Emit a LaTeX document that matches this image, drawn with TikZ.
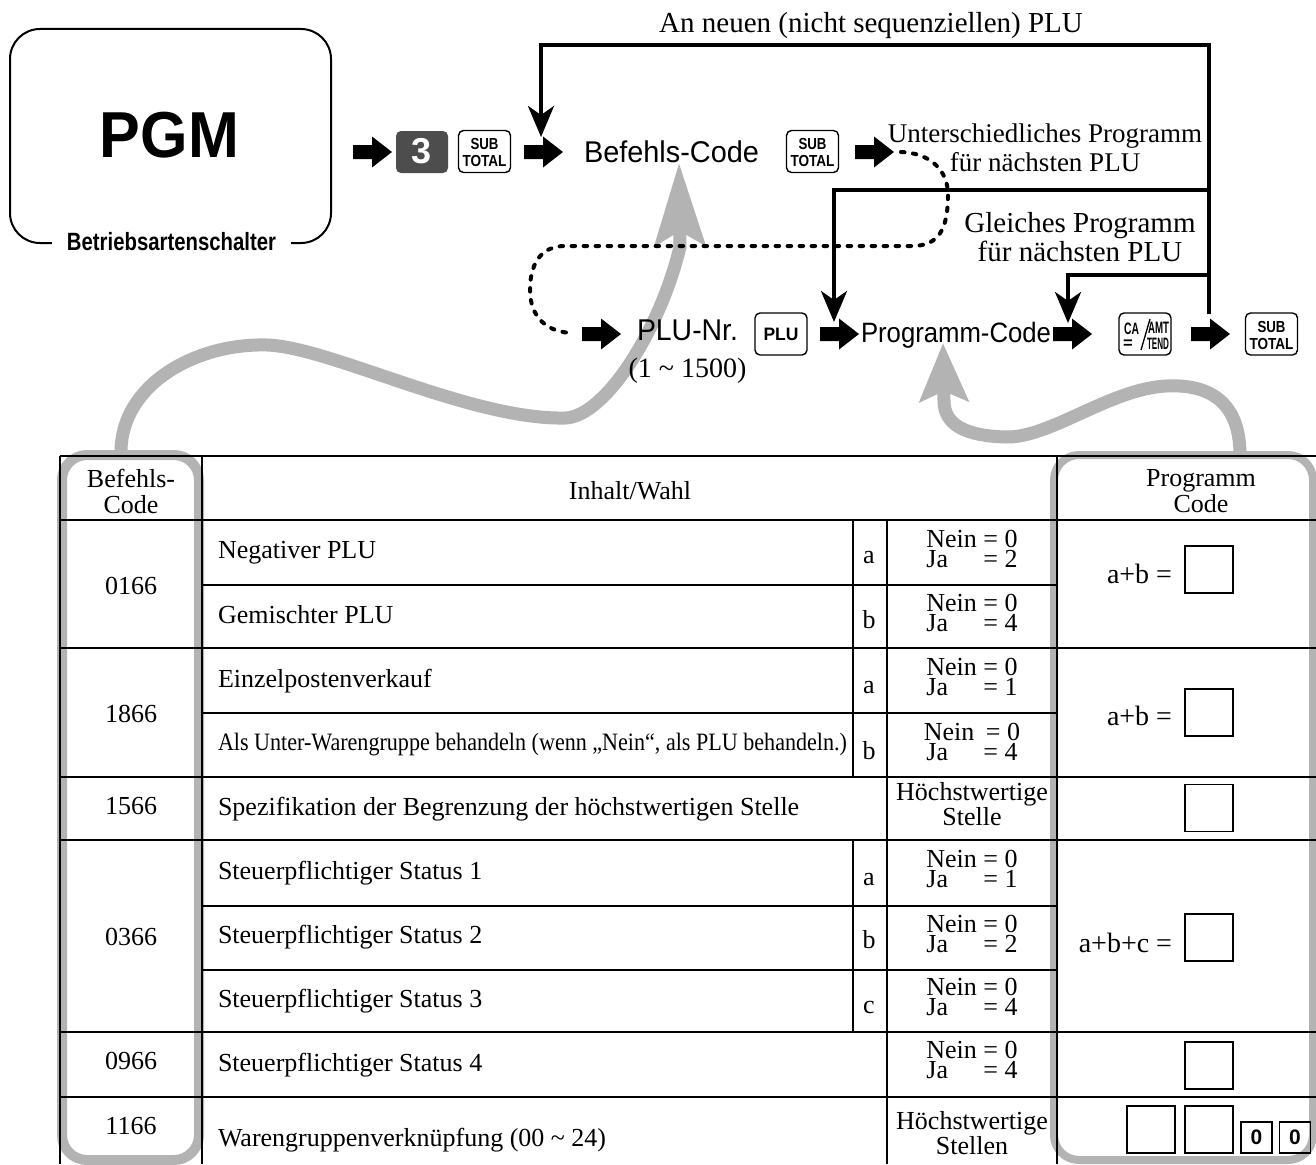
\documentclass[tikz,border=0pt]{standalone}
\usepackage{fontspec}
\usepackage{graphicx}
\usepackage{calc}
\setmainfont{Liberation Serif}
\setsansfont{Liberation Sans}
\usetikzlibrary{arrows.meta}
\definecolor{greyc}{HTML}{B3B3B3}
\definecolor{keydark}{HTML}{4D4D4D}
\newcommand\sqz[2]{\resizebox{#1}{\height}{#2}}
\newcommand\nj[2][]{Nein#1 = 0\\\makebox[\widthof{Nein}][l]{Ja} = #2}
\newcommand\fatarr[1]{\fill (#1) ++(0,-7) -- ++(19,0) -- ++(0,-8.5) -- ++(20,15.5) -- ++(-20,15.5) -- ++(0,-8.5) -- ++(-19,0) -- cycle;}
\newcommand\subtot{\sqz{28pt}{SUB}\\\sqz{44pt}{TOTAL}}
\tikzset{
  every node/.style={inner sep=0pt, outer sep=0pt},
  blkarrow/.style={line width=4pt, -{Stealth[length=31pt,width=26pt,inset=9pt]}},
  dots/.style={line width=4pt, line cap=round, dash pattern=on 3.5pt off 8.5pt},
  greyline/.style={draw=greyc, line width=13pt},
  greyframe/.style={draw=greyc, rounded corners=25pt},
  keybox/.style={draw, line width=1.4pt, rounded corners=5pt, minimum width=52pt, minimum height=42pt},
  keytxt/.style={font=\sffamily\bfseries\fontsize{16}{17}\selectfont, align=center},
  minikey/.style={font=\sffamily\bfseries\fontsize{16.5}{16.5}\selectfont},
  sanslbl/.style={font=\sffamily\fontsize{30}{30}\selectfont, anchor=base},
  tthick/.style={line width=2.6pt},
  tthin/.style={line width=1.3pt},
  tl/.style={font=\fontsize{26}{26}\selectfont, anchor=base west},
  tc/.style={font=\fontsize{26}{26}\selectfont, anchor=base},
  thdr/.style={font=\fontsize{26}{26}\selectfont, align=center},
  njc/.style={font=\fontsize{26}{20}\selectfont, align=center},
  tr/.style={font=\fontsize{28}{28}\selectfont, anchor=base east},
  pbox/.style={draw, line width=1.3pt, minimum width=48pt, minimum height=47pt},
  zbox/.style={draw, line width=1.3pt, minimum width=31pt, minimum height=31pt, font=\sffamily\bfseries\fontsize{21}{21}\selectfont},
}
\begin{document}
\begin{tikzpicture}[x=1pt,y=-1pt]
\useasboundingbox (0,0) rectangle (1316,1164);
\clip (0,0) rectangle (1316,1164);
\fill[white] (0,0) rectangle (1316,1164);

% grey frames around columns
\draw[greyframe, line width=10pt] (62,455) rectangle (199,1160);
\draw[greyframe, line width=8pt] (1054,455) rectangle (1313,1160);

% grey curved arrows
\coordinate (g1s) at (121,452);
\coordinate (g1e) at (679,163);
\draw[greyline, -{Stealth[length=82pt,width=50pt,inset=14pt]}] (g1s) .. controls (121,385) and (195,343) .. (267,345) .. controls (330,347) and (470,420) .. (565,418) .. controls (605,417) and (660,330) .. (680,247) -- (g1e);
\coordinate (g2s) at (1240,455);
\coordinate (g2e) at (943,343);
\draw[greyline, -{Stealth[length=58pt,width=48pt,inset=10pt]}] (g2s) .. controls (1240,398) and (1205,384) .. (1166,386) .. controls (1110,389) and (1050,438) .. (1006,437) .. controls (966,436) and (944,425) .. (944,401) -- (g2e);

% table lines
\foreach \yy in {456,520,648,777,840,1032,1097} \draw[tthick] (60,\yy) -- (1316,\yy);
\foreach \yy in {585,713,906,970} \draw[tthin] (202,\yy) -- (1057,\yy);
\foreach \xx in {60,202,1057} \draw[tthick] (\xx,456) -- (\xx,1164);
\draw[tthin] (887,520) -- (887,1164);
\draw[tthin] (853,520) -- (853,777);
\draw[tthin] (853,840) -- (853,1032);

% header
\node[thdr] (hBC) at (131,491) {Befehls-\\Code};
\node[tc] (hIW) at (630,499) {Inhalt/Wahl};
\node[thdr] (hPC) at (1201,491) {Programm\\Code};

% command codes
\node[tc] (c1) at (131,594) {0166};
\node[tc] (c2) at (131,722) {1866};
\node[tc] (c3) at (131,814) {1566};
\node[tc] (c4) at (131,945) {0366};
\node[tc] (c5) at (131,1069) {0966};
\node[tc] (c6) at (131,1134) {1166};

% contents
\node[tl] (i1) at (218,558) {Negativer PLU};
\node[tl] (i2) at (218,623) {Gemischter PLU};
\node[tl] (i3) at (218,687) {Einzelpostenverkauf};
\node[tl, font=\fontsize{25}{25}\selectfont] (i4) at (218,750) {\sqz{629pt}{Als Unter-Warengruppe behandeln (wenn „Nein“, als PLU behandeln.)}};
\node[tl] (i5) at (218,815) {Spezifikation der Begrenzung der höchstwertigen Stelle};
\node[tl] (i6) at (218,879) {Steuerpflichtiger Status 1};
\node[tl] (i7) at (218,943) {Steuerpflichtiger Status 2};
\node[tl] (i8) at (218,1007) {Steuerpflichtiger Status 3};
\node[tl] (i9) at (218,1071) {Steuerpflichtiger Status 4};
\node[tl] (i10) at (218,1146) {Warengruppenverknüpfung (00 \textasciitilde\ 24)};

% letters
\node[tc] (l1) at (869,563) {a};
\node[tc] (l2) at (869,628) {b};
\node[tc] (l3) at (869,693) {a};
\node[tc] (l4) at (869,759) {b};
\node[tc] (l5) at (869,885) {a};
\node[tc] (l6) at (869,948) {b};
\node[tc] (l7) at (869,1013) {c};

% choices
\node[njc] (n1) at (972,549) {\nj{2}};
\node[njc] (n2) at (972,613) {\nj{4}};
\node[njc] (n3) at (972,677) {\nj{1}};
\node[njc] (n4) at (972,741.5) {\nj[\hspace{5pt}]{4}};
\node[njc] (n5) at (972,804) {Höchstwertige\\Stelle};
\node[njc] (n6) at (972,868.5) {\nj{1}};
\node[njc] (n7) at (972,933.5) {\nj{2}};
\node[njc] (n8) at (972,996.5) {\nj{4}};
\node[njc] (n9) at (972,1059.5) {\nj{4}};
\node[njc] (n10) at (972,1133) {Höchstwertige\\Stellen};

% program code column
\node[tr] (ab1) at (1172,583) {a+b =};
\node[tr] (ab2) at (1172,725) {a+b =};
\node[tr] (abc) at (1172,952) {a+b+c =};
\node[pbox] (pb1) at (1209,569.5) {};
\node[pbox] (pb2) at (1209,712.5) {};
\node[pbox] (pb3) at (1209,808) {};
\node[pbox] (pb4) at (1209,937.5) {};
\node[pbox] (pb5) at (1209,1065.5) {};
\node[pbox] (pb6a) at (1151,1129.5) {};
\node[pbox] (pb6b) at (1209,1129.5) {};
\node[zbox] (z1) at (1256.5,1137.5) {0};
\node[zbox] (z2) at (1295,1137.5) {0};

% mode switch box
\node[draw, line width=2pt, rounded corners=30pt, minimum width=321pt, minimum height=214pt] (pgm) at (170.5,136) {};
\node[font=\sffamily\bfseries\fontsize{65}{65}\selectfont] (pgmt) at (169.5,135.5) {\sqz{139pt}{PGM}};
\node[fill=white, inner xsep=15pt, inner ysep=3pt, font=\sffamily\bfseries\fontsize{25}{25}\selectfont] (bsw) at (171.5,242) {\sqz{209pt}{Betriebsartenschalter}};

% flow labels
\node[font=\fontsize{29}{29}\selectfont, anchor=base] (tAn) at (871,33) {An neuen (nicht sequenziellen) PLU};
\node[font=\fontsize{27}{29}\selectfont, align=center] (tUP) at (1045,148) {Unterschiedliches Programm\\für nächsten PLU};
\node[font=\fontsize{29}{29}\selectfont, align=center] (tGP) at (1080,237.5) {Gleiches Programm\\für nächsten PLU};
\node[sanslbl] (tBC) at (671.5,162) {\sqz{175pt}{Befehls-Code}};
\node[sanslbl] (tPN) at (687.5,340) {\sqz{101pt}{PLU-Nr.}};
\node[font=\fontsize{28}{28}\selectfont, anchor=base] (tRange) at (687.5,377) {(1 \textasciitilde\ 1500)};
\node[sanslbl, font=\sffamily\fontsize{28}{28}\selectfont] (tPC) at (956,342) {\sqz{190pt}{Programm-Code}};

% loop connectors
\coordinate (lp0) at (1209,314);
\coordinate (lp1) at (1209,45);
\coordinate (lp2) at (541,45);
\coordinate (lp3) at (541,137);
\draw[blkarrow] (lp0) -- (lp1) -- (lp2) -- (lp3);
\coordinate (br1s) at (1209,190);
\coordinate (br1c) at (834,190);
\coordinate (br1e) at (834,322);
\draw[blkarrow] (br1s) -- (br1c) -- (br1e);
\coordinate (br2s) at (1209,275);
\coordinate (br2c) at (1068,275);
\coordinate (br2e) at (1068,323);
\draw[blkarrow] (br2s) -- (br2c) -- (br2e);

% dotted connector
\coordinate (dt0) at (901,152);
\coordinate (dt1) at (574,333);
\draw[dots] (dt0) .. controls (930,153) and (948,170) .. (948,195) .. controls (948,230) and (938,246) .. (912,246) -- (565,246) .. controls (540,246) and (530,265) .. (530,290) .. controls (530,318) and (548,333) .. (dt1);

% fat arrows
\coordinate (fa1) at (353,152);
\coordinate (fa2) at (524,152);
\coordinate (fa3) at (855,152);
\coordinate (fa4) at (582,334);
\coordinate (fa5) at (820,334);
\coordinate (fa6) at (1053,334);
\coordinate (fa7) at (1191,334);
\fatarr{fa1}
\fatarr{fa2}
\fatarr{fa3}
\fatarr{fa4}
\fatarr{fa5}
\fatarr{fa6}
\fatarr{fa7}

% keys
\node[keybox, fill=keydark, draw=none] (k3) at (422,152) {};
\node[font=\sffamily\bfseries\fontsize{36}{36}\selectfont, text=white] (k3t) at (422,151) {3};
\node[keybox] (k1) at (484.5,151.5) {};
\node[keytxt] (k1t) at (484.5,152.75) {\subtot};
\node[keybox] (k2) at (812.5,151.5) {};
\node[keytxt] (k2t) at (812.5,152.75) {\subtot};
\node[keybox] (kplu) at (781,334) {};
\node[font=\sffamily\bfseries\fontsize{18}{18}\selectfont] (kplut) at (781,334) {\sqz{35pt}{PLU}};
\node[keybox] (kca) at (1145,334) {};
\node[minikey] (kcaA) at (1131.5,329) {\sqz{15pt}{CA}};
\node[minikey] (kcaB) at (1158.5,327.5) {\sqz{21pt}{AMT}};
\node[minikey] (kcaC) at (1128,344.5) {=};
\node[minikey] (kcaD) at (1158,343.5) {\sqz{22pt}{TEND}};
\draw[line width=1.3pt] (kca.center) ++(-4,16) -- ++(9,-31);
\node[keybox] (k4) at (1271.5,334) {};
\node[keytxt] (k4t) at (1271.5,335.25) {\subtot};
\end{tikzpicture}
\end{document}
